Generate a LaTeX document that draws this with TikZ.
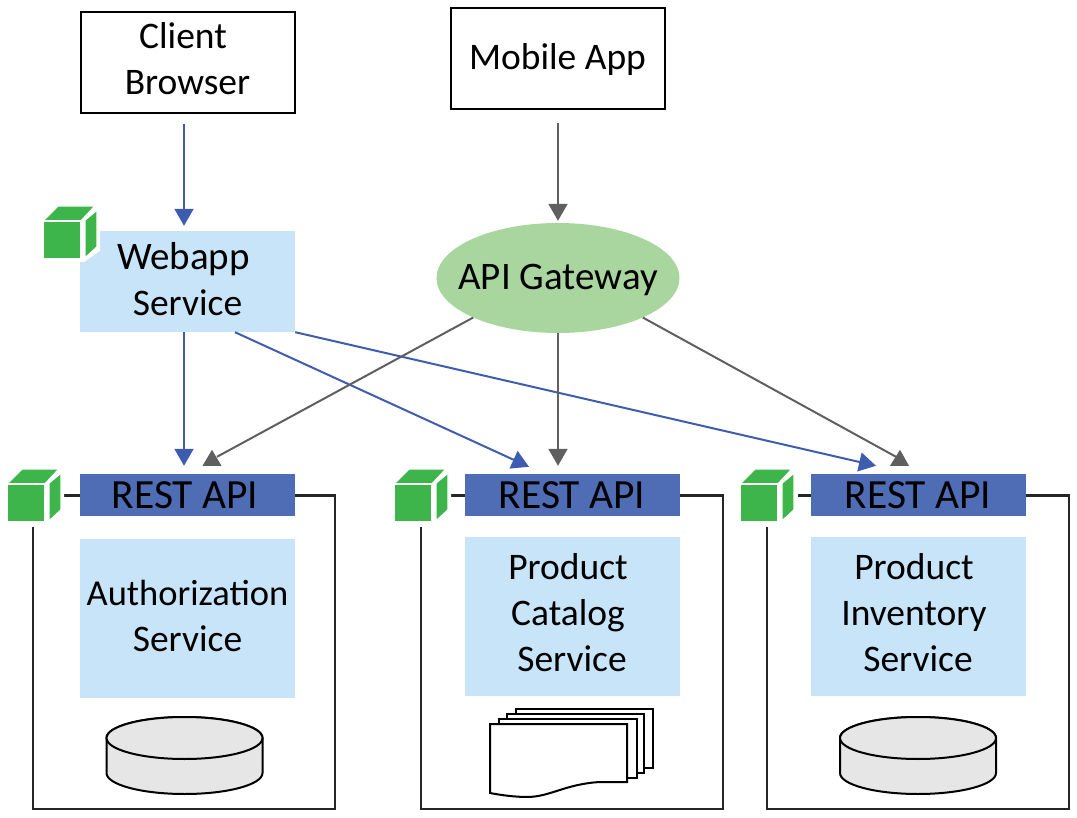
\documentclass[tikz,border=0pt]{standalone}
\usepackage{fontspec}
\setmainfont{Carlito}
\usetikzlibrary{arrows.meta,shapes.geometric}
\definecolor{lightb}{HTML}{C7E4F8}
\definecolor{restb}{HTML}{4F6DB4}
\definecolor{arrowb}{HTML}{3F5DB0}
\definecolor{arrowg}{HTML}{5F5F5F}
\definecolor{cubeg}{HTML}{3DB54A}
\definecolor{gatewayg}{HTML}{A9D59E}
\definecolor{cylg}{HTML}{E6E6E6}
\newcommand{\lifted}[2]{\raisebox{#1}[\height][\depth]{\begin{tabular}{@{}c@{}}#2\end{tabular}}}
\tikzset{
  x=1pt,y=-1pt,
  txt/.style={font=\fontsize{37.5}{46}\selectfont,align=center,text=black,inner sep=0pt},
  whitebox/.style={txt,draw=black,line width=2pt,fill=white,minimum width=214pt,minimum height=101pt},
  service/.style={txt,fill=lightb,minimum width=215pt},
  rest/.style={txt,font=\fontsize{41.5}{46}\selectfont,fill=restb,minimum width=215pt,minimum height=42pt},
  gateway/.style={txt,font=\fontsize{39}{46}\selectfont,ellipse,fill=gatewayg,minimum width=243pt,minimum height=110pt},
  bluearrow/.style={draw=arrowb,line width=2pt,-{Triangle[length=17pt,width=19pt,fill=arrowb]}},
  grayarrow/.style={draw=arrowg,line width=2pt,-{Triangle[length=17pt,width=19pt,fill=arrowg]}},
  grayline/.style={draw=arrowg,line width=2pt},
  graytip/.style={fill=arrowg},
  frameline/.style={draw=black!85,line width=2.2pt,line join=miter},
  cubeface/.style={fill=cubeg,draw=white,line width=1.4pt,line join=round},
  cylbody/.style={fill=cylg,draw=black,line width=2pt},
  page/.style={fill=white,draw=black,line width=2pt,line join=miter},
  pics/cube/.style={code={
    \fill[white] (-3,2) -- (15,-18) -- (57,-18) -- (57,30) -- (41,41) -- (-3,41) -- cycle;
    \path[cubeface] (0,0) -- (15,-15) -- (52,-15) -- (38,0) -- cycle;
    \path[cubeface] (42,-1) -- (54,-11) -- (54,26) -- (42,37) -- cycle;
    \path[cubeface] (0,0) -- (38,0) -- (38,38) -- (0,38) -- cycle;
  }},
  pics/cyl/.style={code={
    \path[cylbody] (-78,0) -- (-78,#1) arc[start angle=180,end angle=360,x radius=78,y radius=-21] -- (78,0) arc[start angle=0,end angle=180,x radius=78,y radius=-21] -- cycle;
    \path[cylbody] (0,0) ellipse[x radius=78,y radius=21];
  }}
}
\begin{document}
\begin{tikzpicture}
\useasboundingbox (0,0) rectangle (1077,818);
% containers
\draw[frameline] (64,495.5) -- (80,495.5) (295,495.5) -- (335,495.5) -- (335,809) -- (33,809) -- (33,527);
\draw[frameline] (449,495.5) -- (465,495.5) (679,495.5) -- (723,495.5) -- (723,809) -- (421,809) -- (421,527);
\draw[frameline] (798,495.5) -- (811,495.5) (1025,495.5) -- (1069,495.5) -- (1069,809) -- (767,809) -- (767,527);
% boxes
\node[whitebox] (client) at (187.5,62.5) {\lifted{0pt}{Client\kern9pt\\Browser}};
\node[whitebox] (mobile) at (557.5,59) {\lifted{-1pt}{Mobile App}};
\node[service,minimum height=101pt] (webapp) at (187.5,281.5) {\lifted{-2pt}{\fontsize{39}{46}\selectfont Webapp\kern8pt\\\fontsize{37.5}{46}\selectfont Service}};
\node[gateway] (gw) at (558,278) {\makebox[0pt]{\lifted{-2pt}{API Gateway}}};
\node[rest] (rest1) at (187.5,495) {REST API\kern5pt};
\node[rest] (rest2) at (572,495) {REST API};
\node[rest] (rest3) at (918,495) {REST API};
\node[service,minimum height=159pt] (auth) at (187.5,618.5) {\lifted{-1pt}{\fontsize{36.5}{46}\selectfont Authorization\\\fontsize{37.5}{46}\selectfont Service}};
\node[service,minimum height=159pt] (catalog) at (572,616.5) {\lifted{0pt}{Product\kern8pt\\Catalog\kern8pt\\Service}};
\node[service,minimum height=159pt] (inventory) at (918,616.5) {\lifted{0pt}{Product\kern8pt\\Inventory\kern8pt\\Service}};
% cubes
\pic at (43,221) {cube};
\pic at (7,484) {cube};
\pic at (394,484) {cube};
\pic at (740,484) {cube};
% stores
\pic at (184.5,738) {cyl=35};
\pic at (918,738) {cyl=35};
\path[page] (516,709) rectangle (653,768);
\path[page] (507,714) rectangle (644,773);
\path[page] (499,719) rectangle (637,778);
\path[page] (490,724) -- (627,724) -- (627,782) -- (600,782) .. controls (565,784) and (550,797) .. (527,797) .. controls (515,797) and (500,795) .. (490,793) -- cycle;
% connectors
\draw[bluearrow] ([shift={(-3.5,10)}]client.south) -- ([xshift=-3.5,yshift=5]webapp.north);
\draw[grayarrow] ([shift={(0.5,13)}]mobile.south) -- ([yshift=2]gw.north);
\draw[bluearrow] ([xshift=-3.5]webapp.south) -- ([xshift=-3.5,yshift=8]rest1.north);
\draw[bluearrow] ([xshift=47.5]webapp.south) -- ([xshift=-43,yshift=7]rest2.north);
\draw[bluearrow] (webapp.south east) -- ([xshift=-42,yshift=8]rest3.north);
\draw[grayarrow] (gw.south) -- ([xshift=-14,yshift=8]rest2.north);
\draw[grayline] (gw.205) -- ([xshift=29.5,yshift=17]rest1.north);
\draw[grayline] (gw.335) -- ([xshift=-22,yshift=17]rest3.north);
\path[graytip] ([xshift=24.5,yshift=24]rest1.north) -- ([xshift=15,yshift=8]rest1.north) -- ([xshift=34,yshift=8]rest1.north) -- cycle;
\path[graytip] ([xshift=-18,yshift=24]rest3.north) -- ([xshift=-28,yshift=8]rest3.north) -- ([xshift=-9,yshift=8]rest3.north) -- cycle;
\end{tikzpicture}
\end{document}
